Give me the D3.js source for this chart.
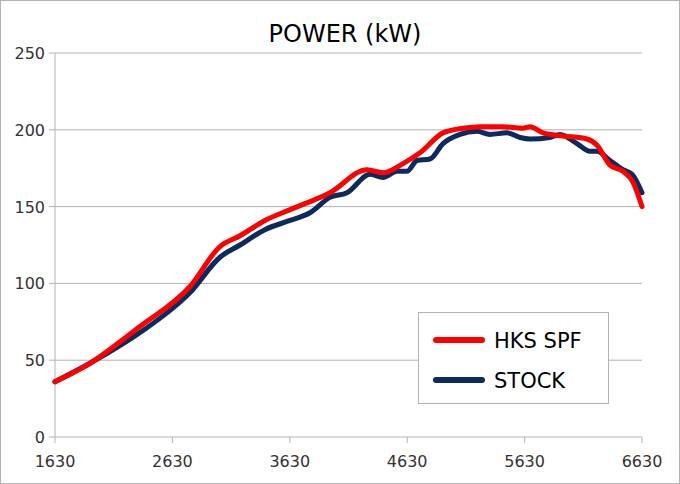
<!DOCTYPE html><html><head><meta charset="utf-8"><script src="https://cdn.jsdelivr.net/npm/d3@7"></script>
<style>body{margin:0;background:#fff}</style></head><body><svg id="c" width="680" height="484"></svg>
<script>
const hksRpm=[1630,1928,2354,2780,3035,3206,3418,3632,3972,4288,4424,4594,4739,4935,5105,5250,5446,5616,5676,5787,5957,6162,6247,6357,6468,6553,6630];
const hksKw=[36,48,72,98,124,131,141,148,159,174,172,178,185,198,201,202,202,201,202,198,196,194,190,177,173,166,150];
const stockRpm=[1630,1928,2354,2780,3035,3206,3418,3632,3802,3972,4117,4313,4424,4543,4628,4714,4824,4935,5080,5224,5335,5480,5591,5676,5846,5932,6076,6187,6247,6357,6468,6545,6630];
const stockKw=[36,48,68,94,117,125,135,141,146,156,159,171,169,173,173,180,181,191,197,199,197,198,195,194,195,197,191,186,186,180,174,171,159];
const xTicks=[1630,2630,3630,4630,5630,6630];
const yTicks=[0,50,100,150,200,250];
const series=[{name:"HKS SPF",rpm:hksRpm,kw:hksKw,color:"#ff0000"},{name:"STOCK",rpm:stockRpm,kw:stockKw,color:"#0b2a5e"}];
const svg=d3.select("#c");
svg.append("rect").attr("x",0.5).attr("y",0.5).attr("width",679).attr("height",483).attr("fill","#fff").attr("stroke","#b3b3b3");
const L=55,R=642,T=53,B=437;
const x=d3.scaleLinear().domain([1630,6630]).range([L,R]);
const y=d3.scaleLinear().domain([0,250]).range([B,T]);
const font="DejaVu Sans";
svg.append("g").selectAll("line").data(yTicks.slice(1)).join("line").attr("x1",L).attr("x2",R).attr("y1",d=>y(d)).attr("y2",d=>y(d)).attr("stroke","#b3b3b3");
svg.append("line").attr("x1",L).attr("x2",R).attr("y1",B).attr("y2",B).attr("stroke","#b3b3b3");
svg.append("line").attr("x1",L).attr("x2",L).attr("y1",T).attr("y2",B).attr("stroke","#b3b3b3");
svg.append("g").selectAll("line").data(xTicks).join("line").attr("x1",d=>x(d)).attr("x2",d=>x(d)).attr("y1",B).attr("y2",B+6).attr("stroke","#b3b3b3");
svg.append("g").selectAll("line").data(yTicks).join("line").attr("x1",L-6).attr("x2",L).attr("y1",d=>y(d)).attr("y2",d=>y(d)).attr("stroke","#b3b3b3");
svg.append("g").selectAll("text").data(yTicks).join("text").attr("x",L-10).attr("y",d=>y(d)+6).attr("text-anchor","end").attr("font-family",font).attr("font-size",16).attr("fill","#333").text(d=>d);
svg.append("g").selectAll("text").data(xTicks).join("text").attr("x",d=>x(d)).attr("y",B+30).attr("text-anchor","middle").attr("font-family",font).attr("font-size",16).attr("fill","#333").text(d=>d);
svg.append("text").attr("x",345).attr("y",42).attr("text-anchor","middle").attr("font-family",font).attr("font-size",24).text("POWER (kW)");
const line=d3.line().curve(d3.curveMonotoneX);
[series[1],series[0]].forEach(s=>{
 svg.append("path").attr("d",line(s.rpm.map((r,i)=>[x(r),y(s.kw[i])]))).attr("fill","none").attr("stroke",s.color).attr("stroke-width",5).attr("stroke-linejoin","round").attr("stroke-linecap","round");
});
svg.append("rect").attr("x",418.5).attr("y",312.5).attr("width",190).attr("height",91).attr("fill","#fff").attr("stroke","#b3b3b3");
series.forEach((s,i)=>{
 const yy=340+i*40;
 svg.append("line").attr("x1",436).attr("x2",482).attr("y1",yy).attr("y2",yy).attr("stroke",s.color).attr("stroke-width",6).attr("stroke-linecap","round");
 svg.append("text").attr("x",494).attr("y",yy+8).attr("font-family",font).attr("font-size",21).attr("fill","#000").text(s.name);
});
</script></body></html>
